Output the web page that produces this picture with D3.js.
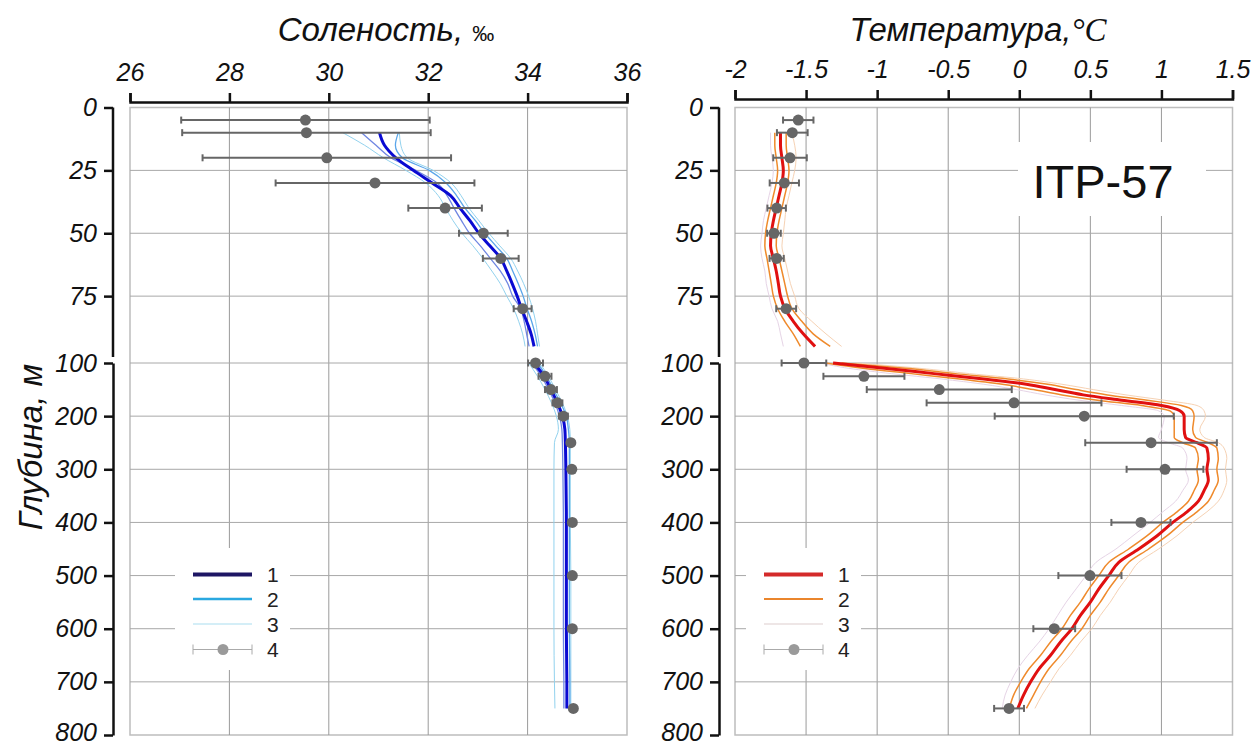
<!DOCTYPE html>
<html>
<head>
<meta charset="utf-8">
<script src="https://cdn.jsdelivr.net/npm/d3@7"></script>
<style>
  body { margin: 0; background: #fff; }
  svg { display: block; font-family: "Liberation Sans", Arial, sans-serif; }
  .tick text { font-style: italic; font-size: 25px; fill: #111; }
</style>
</head>
<body>
<script>
(function() {

  /* depth levels: upper part (0-100 m) and lower part (100-800 m) */
  var depthUp = [10, 15, 20, 25, 30, 35, 40, 45, 50, 55, 60, 65, 70, 75, 80, 85, 90, 95];
  var salDepthLow = [100, 125, 150, 175, 200, 225, 250, 300, 400, 500, 600, 700, 750];
  var tDepthLow = [100, 110, 120, 130, 140, 150, 160, 170, 180, 190, 200, 225, 240, 250, 260, 280, 300,
                   320, 340, 360, 380, 400, 425, 450, 475, 500, 525, 550, 575, 600, 625, 650, 675, 700, 725, 750];

  /* salinity, upper part */
  var salMeanUp   = [31.02, 31.12, 31.35, 31.70, 32.08, 32.45, 32.64, 32.84, 33.02, 33.24, 33.46, 33.58, 33.69, 33.79, 33.88, 33.98, 34.07, 34.13];
  var salSdLoUp   = [30.66, 30.95, 31.25, 31.75, 32.18, 32.38, 32.52, 32.67, 32.83, 33.05, 33.25, 33.45, 33.60, 33.70, 33.86, 33.93, 33.98, 34.03];
  var salSdHiUp   = [31.40, 31.34, 31.48, 32.02, 32.36, 32.57, 32.74, 32.95, 33.14, 33.36, 33.58, 33.70, 33.81, 33.91, 33.99, 34.08, 34.15, 34.20];
  var salMinUp    = [30.28, 30.72, 31.10, 31.55, 31.95, 32.20, 32.35, 32.50, 32.68, 32.90, 33.10, 33.28, 33.45, 33.58, 33.72, 33.82, 33.90, 33.95];
  var salMaxUp    = [31.42, 31.45, 31.58, 32.10, 32.46, 32.66, 32.82, 33.02, 33.22, 33.44, 33.66, 33.80, 33.92, 34.02, 34.10, 34.16, 34.20, 34.24];
  /* salinity, lower part */
  var salMeanLow  = [34.13, 34.33, 34.47, 34.60, 34.70, 34.75, 34.76, 34.77, 34.78, 34.78, 34.78, 34.79, 34.79];
  var salSdLoLow  = [34.08, 34.28, 34.42, 34.55, 34.64, 34.69, 34.70, 34.71, 34.72, 34.72, 34.72, 34.73, 34.73];
  var salSdHiLow  = [34.20, 34.38, 34.52, 34.66, 34.78, 34.82, 34.84, 34.84, 34.84, 34.84, 34.84, 34.85, 34.85];
  var salMinLow   = [34.02, 34.20, 34.35, 34.48, 34.58, 34.62, 34.54, 34.53, 34.53, 34.53, 34.53, 34.54, 34.55];
  var salMaxLow   = [34.24, 34.42, 34.56, 34.70, 34.80, 34.85, 34.86, 34.86, 34.86, 34.87, 34.87, 34.87, 34.87];

  /* temperature, upper part */
  var tMeanUp = [-1.68, -1.68, -1.67, -1.66, -1.67, -1.69, -1.71, -1.73, -1.745, -1.75, -1.73, -1.71, -1.695, -1.68, -1.648, -1.59, -1.52, -1.437];
  var tSdLoUp = [-1.72, -1.72, -1.71, -1.70, -1.71, -1.73, -1.75, -1.77, -1.785, -1.79, -1.775, -1.76, -1.745, -1.73, -1.70, -1.65, -1.59, -1.54];
  var tSdHiUp = [-1.64, -1.64, -1.63, -1.62, -1.63, -1.65, -1.67, -1.69, -1.705, -1.71, -1.69, -1.67, -1.65, -1.63, -1.60, -1.53, -1.45, -1.33];
  var tMinUp  = [-1.75, -1.75, -1.74, -1.73, -1.74, -1.76, -1.78, -1.80, -1.81, -1.82, -1.81, -1.79, -1.78, -1.76, -1.74, -1.70, -1.68, -1.66];
  var tMaxUp  = [-1.60, -1.58, -1.57, -1.58, -1.60, -1.62, -1.64, -1.65, -1.66, -1.67, -1.65, -1.63, -1.61, -1.58, -1.55, -1.46, -1.36, -1.25];
  /* temperature, lower part */
  var tMeanLow = [-1.31, -0.95, -0.60, -0.25, 0.05, 0.25, 0.45, 0.72, 1.00, 1.13, 1.16, 1.16, 1.17, 1.25, 1.32, 1.33, 1.32,
                  1.33, 1.30, 1.26, 1.18, 1.08, 0.97, 0.84, 0.70, 0.63, 0.56, 0.50, 0.43, 0.37, 0.29, 0.22, 0.14, 0.08, 0.03, -0.01];
  var tSdLoLow = [-1.36, -1.10, -0.76, -0.42, -0.12, 0.10, 0.30, 0.55, 0.86, 1.06, 1.09, 1.09, 1.09, 1.15, 1.24, 1.26, 1.25,
                  1.26, 1.23, 1.19, 1.11, 1.01, 0.90, 0.77, 0.63, 0.56, 0.49, 0.43, 0.36, 0.30, 0.22, 0.15, 0.07, 0.01, -0.04, -0.07];
  var tSdHiLow = [-1.25, -0.80, -0.45, -0.08, 0.20, 0.40, 0.62, 0.90, 1.14, 1.22, 1.23, 1.22, 1.24, 1.33, 1.39, 1.40, 1.39,
                  1.40, 1.37, 1.33, 1.25, 1.15, 1.04, 0.91, 0.77, 0.70, 0.63, 0.57, 0.50, 0.44, 0.36, 0.29, 0.21, 0.15, 0.10, 0.05];
  var tMinLow  = [-1.40, -1.20, -0.90, -0.55, -0.25, -0.02, 0.18, 0.42, 0.72, 0.98, 1.02, 1.00, 0.98, 1.05, 1.15, 1.18, 1.17,
                  1.19, 1.15, 1.10, 1.01, 0.92, 0.80, 0.68, 0.54, 0.47, 0.40, 0.33, 0.27, 0.21, 0.14, 0.06, -0.01, -0.06, -0.10, -0.12];
  var tMaxLow  = [-1.15, -0.70, -0.35, 0.03, 0.30, 0.52, 0.75, 1.02, 1.25, 1.30, 1.31, 1.27, 1.30, 1.40, 1.44, 1.46, 1.45,
                  1.46, 1.44, 1.40, 1.32, 1.22, 1.11, 0.98, 0.84, 0.77, 0.70, 0.64, 0.57, 0.51, 0.43, 0.36, 0.28, 0.22, 0.16, 0.11];

  /* observations (item 4) with error bars */
  var obsDepth = [5, 10, 20, 30, 40, 50, 60, 80, 100, 125, 150, 175, 200, 250, 300, 400, 500, 600, 750];
  var salObs   = [29.53, 29.55, 29.96, 30.93, 32.34, 33.11, 33.46, 33.90, 34.16, 34.35, 34.47, 34.60, 34.72, 34.87, 34.89, 34.90, 34.90, 34.90, 34.92];
  var salErr   = [2.50, 2.50, 2.50, 2.00, 0.74, 0.49, 0.36, 0.18, 0.15, 0.13, 0.12, 0.10, 0.09, 0, 0, 0, 0, 0, 0];
  var tObs     = [-1.555, -1.597, -1.613, -1.653, -1.707, -1.726, -1.707, -1.640, -1.515, -1.093, -0.563, -0.037, 0.457, 0.927, 1.025, 0.856, 0.497, 0.246, -0.072];
  var tErr     = [0.107, 0.108, 0.118, 0.103, 0.065, 0.048, 0.05, 0.07, 0.157, 0.285, 0.51, 0.615, 0.63, 0.463, 0.27, 0.208, 0.222, 0.147, 0.105];

  var salTicks = [26, 28, 30, 32, 34, 36];
  var tTicks = [-2, -1.5, -1, -0.5, 0, 0.5, 1, 1.5];
  var depthTicksUp = [0, 25, 50, 75];
  var depthTicksLow = [100, 200, 300, 400, 500, 600, 700, 800];
  var legendLabels = ["1", "2", "3", "4"];

  var width = 1256, height = 744;
  var svg = d3.select("body").append("svg")
      .attr("width", width)
      .attr("height", height);
  svg.append("rect").attr("width", width).attr("height", height).attr("fill", "#fff");

  // broken depth axis: two linear pieces
  var yTop = d3.scaleLinear().domain([0, 100]).range([107.5, 359]);
  var yBot = d3.scaleLinear().domain([100, 800]).range([363, 735]);
  function depthY(d) { return d < 100 ? yTop(d) : yBot(d); }

  function zip(depths, vals) {
    return depths.map(function(d, i) { return [d, vals[i]]; });
  }

  function panel(opt) {
    var x = opt.x;
    var g = svg.append("g");
    var x0 = x.range()[0], x1 = x.range()[1];

    // frame + grid
    g.append("rect")
        .attr("x", x0).attr("y", yTop(0))
        .attr("width", x1 - x0).attr("height", yBot(800) - yTop(0))
        .attr("fill", "none").attr("stroke", "#bdbdbd").attr("stroke-width", 1.5);
    g.selectAll(".vgrid")
        .data(opt.ticks.slice(1, -1))
      .enter().append("line")
        .attr("x1", function(d) { return x(d); }).attr("x2", function(d) { return x(d); })
        .attr("y1", yTop(0)).attr("y2", yBot(800))
        .attr("stroke", "#9a9a9a").attr("stroke-width", 1);
    g.selectAll(".hgrid")
        .data(depthTicksUp.slice(1).concat(depthTicksLow.slice(0, -1)))
      .enter().append("line")
        .attr("x1", x0).attr("x2", x1)
        .attr("y1", function(d) { return depthY(d); }).attr("y2", function(d) { return depthY(d); })
        .attr("stroke", "#a8a8a8").attr("stroke-width", 1);

    // white boxes under legend / label
    g.append("rect")
        .attr("x", opt.legendX - 18).attr("y", 548)
        .attr("width", 115).attr("height", 122)
        .attr("fill", "#fff");
    if (opt.label) {
      g.append("rect")
          .attr("x", 1018).attr("y", 142).attr("width", 188).attr("height", 74)
          .attr("fill", "#fff");
      g.append("text")
          .attr("x", 1103).attr("y", 198)
          .attr("text-anchor", "middle")
          .style("font-size", "47px").style("fill", "#111")
          .text(opt.label);
    }

    // top axis
    var ax = g.append("g")
        .attr("transform", "translate(0," + opt.axisY + ")")
        .call(d3.axisTop(x).tickValues(opt.ticks).tickSize(9).tickSizeOuter(9).tickPadding(12)
          .tickFormat(function(d) { return String(d); }));
    ax.selectAll("path, line").attr("stroke", "#111").attr("stroke-width", 2.5);

    // left axis in two pieces
    var ay1 = g.append("g")
        .attr("transform", "translate(" + opt.axisX + ",0)")
        .call(d3.axisLeft(yTop).tickValues(depthTicksUp).tickSize(9).tickSizeOuter(0).tickPadding(7));
    var ay2 = g.append("g")
        .attr("transform", "translate(" + opt.axisX + ",0)")
        .call(d3.axisLeft(yBot).tickValues(depthTicksLow).tickSize(9).tickSizeOuter(0).tickPadding(7));
    ay1.select(".domain").attr("d", "M0," + yTop(0) + "V357");
    ay2.selectAll(".tick").filter(function(d) { return d === 800; })
        .select("text").attr("dy", "0.2em");
    g.selectAll(".domain").attr("fill", "none");
    [ay1, ay2].forEach(function(a) {
      a.selectAll("path, line").attr("stroke", "#111").attr("stroke-width", 2.5);
    });

    // title
    var t = g.append("text")
        .attr("x", opt.titleX).attr("y", 41)
        .attr("text-anchor", "middle")
        .style("font-size", "33px").style("fill", "#111");
    t.append("tspan").style("font-style", "italic").text(opt.title);
    t.append("tspan").style("font-size", opt.unitSize).style("font-family", opt.unitFont)
        .style("font-style", opt.unitStyle).text(opt.unit);

    // profile lines
    var line = d3.line()
        .x(function(d) { return x(d[1]); })
        .y(function(d) { return depthY(d[0]); })
        .curve(d3.curveMonotoneY);

    opt.series.forEach(function(s) {
      g.append("path").datum(zip(opt.depthUp, s.up))
          .attr("d", line).attr("fill", "none")
          .attr("stroke", s.color).attr("stroke-width", s.width);
      g.append("path").datum(zip(opt.depthLow, s.low))
          .attr("d", line).attr("fill", "none")
          .attr("stroke", s.color).attr("stroke-width", s.width);
    });

    // observations with error bars
    var obs = g.selectAll(".obs")
        .data(obsDepth.map(function(d, i) { return {d: d, v: opt.obs[i], e: opt.err[i]}; }))
      .enter().append("g")
        .attr("transform", function(d) { return "translate(0," + depthY(d.d) + ")"; });
    obs.filter(function(d) { return d.e > 0; }).each(function(d) {
      var s = d3.select(this);
      s.append("line").attr("x1", x(d.v - d.e)).attr("x2", x(d.v + d.e))
          .attr("stroke", "#666").attr("stroke-width", 2);
      [d.v - d.e, d.v + d.e].forEach(function(v) {
        s.append("line").attr("x1", x(v)).attr("x2", x(v)).attr("y1", -3.5).attr("y2", 3.5)
            .attr("stroke", "#666").attr("stroke-width", 2);
      });
    });
    obs.append("circle")
        .attr("cx", function(d) { return x(d.v); })
        .attr("r", 5.5).attr("fill", "#666");

    // legend
    var lg = g.append("g").attr("transform", "translate(" + opt.legendX + ",0)");
    var ly = [574.5, 599, 624, 649.5];
    opt.legend.forEach(function(s, i) {
      lg.append("line").attr("x1", 0).attr("x2", 59).attr("y1", ly[i]).attr("y2", ly[i])
          .attr("stroke", s.color).attr("stroke-width", s.width);
      lg.append("text").attr("x", 74).attr("y", ly[i] + 7.5)
          .style("font-size", "21px").style("fill", "#222").text(legendLabels[i]);
    });
    lg.append("line").attr("x1", 0).attr("x2", 0).attr("y1", ly[3] - 5).attr("y2", ly[3] + 5)
        .attr("stroke", "#aaa").attr("stroke-width", 1);
    lg.append("line").attr("x1", 59).attr("x2", 59).attr("y1", ly[3] - 5).attr("y2", ly[3] + 5)
        .attr("stroke", "#aaa").attr("stroke-width", 1);
    lg.append("circle").attr("cx", 30).attr("cy", ly[3]).attr("r", 5.5).attr("fill", "#9a9a9a");
  }

  panel({
    x: d3.scaleLinear().domain([26, 36]).range([130, 627]),
    ticks: salTicks, axisY: 102, axisX: 113,
    title: "Соленость, ", unit: "‰", unitSize: "22px", unitFont: "Liberation Sans", unitStyle: "normal",
    titleX: 386,
    depthUp: depthUp, depthLow: salDepthLow,
    series: [
      {up: salMinUp, low: salMinLow, color: "#92d2ee", width: 1},
      {up: salMaxUp, low: salMaxLow, color: "#92d2ee", width: 1},
      {up: salSdLoUp, low: salSdLoLow, color: "#6f86e2", width: 1.3},
      {up: salSdHiUp, low: salSdHiLow, color: "#5aa6ea", width: 1.3},
      {up: salMeanUp, low: salMeanLow, color: "#0a0ad2", width: 3}
    ],
    obs: salObs, err: salErr,
    legendX: 193,
    legend: [
      {color: "#1e1664", width: 4},
      {color: "#2aa8e0", width: 2.5},
      {color: "#c6e8f5", width: 1.5},
      {color: "#aaa", width: 1}
    ]
  });

  panel({
    x: d3.scaleLinear().domain([-2, 1.5]).range([735, 1232.5]),
    ticks: tTicks, axisY: 99, axisX: 719,
    title: "Температура,", unit: "°C", unitSize: "33px", unitFont: "Liberation Serif", unitStyle: "italic",
    titleX: 978,
    depthUp: depthUp, depthLow: tDepthLow,
    series: [
      {up: tMinUp, low: tMinLow, color: "#e6d4e6", width: 1},
      {up: tMaxUp, low: tMaxLow, color: "#f6d2b4", width: 1},
      {up: tSdLoUp, low: tSdLoLow, color: "#ef8a2c", width: 1.5},
      {up: tSdHiUp, low: tSdHiLow, color: "#ef8a2c", width: 1.5},
      {up: tMeanUp, low: tMeanLow, color: "#e01010", width: 3}
    ],
    obs: tObs, err: tErr,
    legendX: 764,
    legend: [
      {color: "#d42a2a", width: 4},
      {color: "#ea852c", width: 2},
      {color: "#e8dede", width: 1.5},
      {color: "#aaa", width: 1}
    ],
    label: "ITP-57"
  });

  // depth title
  svg.append("text")
      .attr("transform", "translate(42,447) rotate(-90)")
      .attr("text-anchor", "middle")
      .style("font-size", "33px").style("font-style", "italic").style("fill", "#111")
      .text("Глубина, м");

})();
</script>
</body>
</html>
